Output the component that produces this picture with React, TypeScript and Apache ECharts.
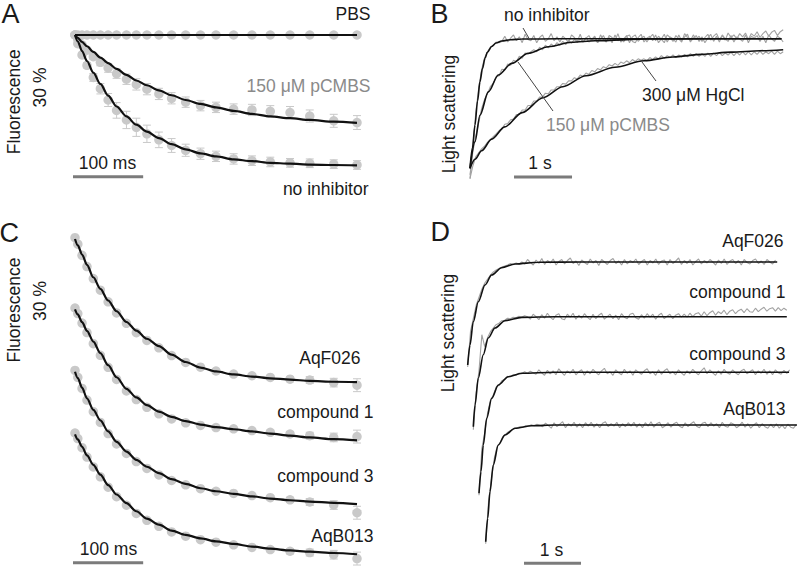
import React, { useEffect, useRef } from 'react';
import * as echarts from 'echarts';

// ---------- Panel A / C : stopped-flow fluorescence (time in ms, signal in %) ----------
const T_DOTS = [0, 4, 10, 17, 26, 36, 47, 59, 73, 87, 102, 119, 137, 157, 178, 200, 225, 251, 277, 305, 333, 367, 400];

const A_PBS_DOTS = [0, 0, 0, 0, 0, 0, 0, 0, 0, 0, 0, 0, 0, 0, 0, 0, 0, 0, 0, 0, 0, 0, 0];
const A_PBS_ERR = [0, 0.2, 0.2, 0.2, 0.2, 0.2, 0.2, 0.2, 0.2, 0.2, 0.2, 0.2, 0.2, 0.2, 0.2, 0.2, 0.2, 0.2, 0.2, 0.2, 0.2, 0.2, 0.3];
const A_PBS_FIT_T = [0, 400];
const A_PBS_FIT = [0, 0];

const A_PCMBS_DOTS = [0, -1.0, -2.3, -3.5, -5.0, -6.3, -7.6, -8.9, -10.2, -11.4, -12.5, -13.6, -14.6, -15.5, -16.3, -16.7, -17.1, -17.3, -17.6, -17.9, -18.7, -19.8, -20.2];
const A_PCMBS_ERR = [0, 0.2, 0.3, 0.5, 0.6, 0.8, 1.0, 1.1, 1.2, 1.3, 1.3, 1.3, 1.3, 1.2, 1.2, 1.2, 1.2, 1.3, 1.3, 1.4, 1.4, 1.5, 1.6];
const A_PCMBS_FIT = [0, -0.65, -1.6, -2.6, -3.9, -5.2, -6.5, -7.8, -9.2, -10.5, -11.6, -12.8, -13.9, -15.0, -15.9, -16.7, -17.5, -18.2, -18.8, -19.2, -19.6, -20.0, -20.3];

const A_NOINH_DOTS = [0, -2.0, -4.6, -7.0, -9.8, -12.4, -15.0, -17.4, -19.6, -21.3, -22.8, -24.2, -25.5, -26.6, -27.4, -28.0, -28.6, -29.0, -29.3, -29.5, -29.6, -29.8, -30.0];
const A_NOINH_ERR = [0, 0.2, 0.4, 0.6, 0.9, 1.2, 1.5, 1.8, 2.0, 2.1, 2.0, 1.8, 1.6, 1.4, 1.3, 1.2, 1.2, 1.1, 1.1, 1.0, 1.0, 1.0, 1.0];
const A_NOINH_FIT = [0, -1.5, -3.7, -6.0, -8.7, -11.3, -14.0, -16.5, -18.8, -20.7, -22.3, -23.8, -25.2, -26.4, -27.3, -28.0, -28.7, -29.1, -29.5, -29.7, -29.9, -30.0, -30.1];

const C_ERR = [0, 0.3, 0.3, 0.3, 0.3, 0.3, 0.3, 0.3, 0.3, 0.3, 0.3, 0.3, 0.3, 0.3, 0.3, 0.3, 0.3, 0.3, 0.5, 0.6, 0.8, 1.0, 1.5];
const C_AQF026_DOTS = [0.3, -1.2, -3.8, -6.4, -9.2, -11.9, -14.6, -17.2, -19.6, -21.8, -23.6, -25.3, -27.1, -28.7, -29.8, -30.7, -31.4, -31.8, -32.2, -32.6, -32.8, -33.4, -34.0];
const C_AQF026_FIT = [0, -1.5, -3.6, -6.0, -8.9, -11.6, -14.3, -16.8, -19.3, -21.3, -23.2, -24.9, -26.9, -28.6, -29.9, -30.8, -31.5, -32.0, -32.4, -32.7, -33.0, -33.2, -33.3];
const C_CMPD1_DOTS = [0.3, -1.0, -3.2, -5.4, -8.0, -10.7, -13.5, -16.3, -19.0, -21.0, -22.8, -24.3, -25.5, -26.4, -27.0, -27.5, -27.8, -28.2, -28.6, -29.0, -29.4, -29.8, -29.6];
const C_CMPD1_FIT = [0, -1.2, -3.0, -5.0, -7.5, -10.2, -13.0, -15.8, -18.5, -20.5, -22.3, -23.8, -25.0, -26.0, -26.8, -27.4, -27.9, -28.4, -28.9, -29.4, -29.8, -30.2, -30.5];
const C_CMPD3_DOTS = [0.3, -1.3, -3.9, -6.6, -9.3, -11.8, -14.4, -16.8, -19.0, -20.9, -22.5, -24.0, -25.3, -26.3, -27.2, -27.8, -28.3, -28.8, -29.3, -29.8, -30.3, -31.0, -32.8];
const C_CMPD3_FIT = [0, -1.5, -3.7, -6.2, -8.9, -11.3, -13.9, -16.3, -18.6, -20.5, -22.1, -23.6, -25.0, -26.1, -27.1, -27.8, -28.4, -29.0, -29.5, -29.9, -30.2, -30.5, -30.8];
const C_AQB013_DOTS = [0.3, -1.0, -3.1, -5.3, -7.6, -9.9, -12.3, -14.5, -16.5, -18.4, -20.0, -21.4, -22.7, -23.7, -24.5, -25.1, -25.7, -26.3, -26.8, -27.2, -27.5, -28.0, -28.9];
const C_AQB013_FIT = [0, -1.2, -2.9, -4.9, -7.1, -9.4, -11.8, -14.0, -16.0, -17.9, -19.6, -21.0, -22.4, -23.4, -24.2, -24.9, -25.5, -26.1, -26.6, -27.0, -27.3, -27.6, -27.9];

// ---------- Panel B : light scattering (time in s, normalised signal) ----------
const B_DT = 0.05;
const B_NOINH_FIT_T = [0, 0.043, 0.086, 0.13, 0.172, 0.215, 0.259, 0.3, 0.374, 0.45, 0.547, 0.7, 0.89, 1.5, 5.37];
const B_NOINH_FIT = [0, 0.16, 0.334, 0.52, 0.669, 0.77, 0.85, 0.895, 0.94, 0.967, 0.983, 0.993, 0.998, 1.0, 1.0];
const B_PCMBS_FIT_T = [0, 0.086, 0.172, 0.316, 0.488, 0.719, 1.005, 1.35, 1.753, 2.155, 3.1, 4.2, 5.37];
const B_PCMBS_FIT = [0, 0.205, 0.41, 0.59, 0.72, 0.81, 0.888, 0.939, 0.973, 0.985, 0.998, 1.0, 1.0];
const B_HGCL_FIT_T = [0, 0.086, 0.2, 0.374, 0.6, 0.9, 1.26, 1.6, 2.0, 2.5, 3.0, 3.5, 4.0, 4.5, 5.0, 5.4];
const B_HGCL_FIT = [0, 0.07, 0.135, 0.225, 0.32, 0.43, 0.545, 0.63, 0.715, 0.78, 0.83, 0.86, 0.88, 0.897, 0.908, 0.916];

const B_NOINH_RAW = [
  -0.08, 0.17, 0.43, 0.62, 0.76, 0.85, 0.9, 0.935, 0.95, 0.975, 0.97,
  0.98, 1.02, 0.975, 1.005, 1.03, 0.985, 1.015, 0.97, 1.035, 0.995,
  0.985, 1.025, 0.97, 1.01, 1.03, 0.98, 1.0, 1.04, 0.985, 1.015,
  0.975, 1.02, 1.0, 0.97, 1.03, 1.01, 0.98, 1.035, 0.975, 1.005,
  1.025, 0.985, 1.015, 0.97, 1.03, 0.995, 0.975, 1.025, 1.01, 0.985,
  1.04, 0.975, 1.0, 1.025, 0.97, 1.015, 1.03, 0.98, 1.005, 1.02,
  0.975, 1.01, 1.035, 0.985, 1.02, 0.995, 0.97, 1.03, 1.01, 0.98,
  1.025, 1.0, 0.975, 1.04, 1.01, 0.985, 1.03, 0.995, 1.02, 0.98,
  1.01, 1.035, 0.99, 1.02, 1.04, 0.995, 1.025, 0.99, 1.045, 1.01,
  1.03, 1.0, 1.04, 1.015, 1.045, 0.995, 1.04, 1.02, 1.055, 1.01,
  1.04, 1.06, 1.02, 1.05, 1.065, 1.025, 1.055, 1.07,
];
const B_PCMBS_RAW = [
  -0.05, 0.13, 0.25, 0.35, 0.46, 0.53, 0.575, 0.63, 0.655, 0.705,
  0.715, 0.765, 0.76, 0.805, 0.795, 0.835, 0.825, 0.865, 0.85, 0.89,
  0.88, 0.9, 0.915, 0.9, 0.935, 0.915, 0.95, 0.93, 0.96, 0.94,
  0.97, 0.95, 0.98, 0.955, 0.99, 0.965, 0.995, 0.97, 1.0, 0.975,
  1.01, 0.975, 0.995, 1.02, 0.97, 1.0, 1.025, 0.98, 1.01, 0.97,
  1.03, 0.985, 1.005, 0.975, 1.02, 1.03, 0.98, 0.97, 1.01, 1.035,
  0.975, 1.005, 1.02, 0.985, 1.03, 0.97, 1.0, 1.035, 0.975, 1.015,
  1.0, 0.975, 1.03, 0.985, 1.015, 1.035, 0.975, 1.005, 1.025, 0.98,
  1.015, 0.97, 1.005, 1.035, 0.98, 1.02, 0.975, 1.03, 1.0, 0.98,
  1.025, 0.975, 1.015, 1.0, 0.98, 1.03, 0.97, 1.02, 1.005, 1.025,
  0.98, 1.02, 0.97, 1.03, 1.0, 0.98, 1.02, 1.005, 0.975,
];
const B_HGCL_RAW = [
  -0.08, 0.02, 0.09, 0.12, 0.15, 0.17, 0.2, 0.22, 0.245, 0.265,
  0.29, 0.305, 0.34, 0.345, 0.375, 0.38, 0.415, 0.415, 0.45, 0.45,
  0.485, 0.485, 0.52, 0.52, 0.55, 0.55, 0.58, 0.575, 0.605, 0.605,
  0.63, 0.63, 0.655, 0.65, 0.675, 0.675, 0.7, 0.69, 0.72, 0.71,
  0.735, 0.725, 0.755, 0.745, 0.77, 0.76, 0.785, 0.775, 0.8, 0.79,
  0.81, 0.795, 0.82, 0.81, 0.83, 0.815, 0.84, 0.825, 0.845, 0.835,
  0.845, 0.83, 0.855, 0.84, 0.86, 0.845, 0.87, 0.85, 0.87, 0.855,
  0.875, 0.855, 0.875, 0.86, 0.88, 0.86, 0.885, 0.865, 0.885, 0.865,
  0.885, 0.865, 0.89, 0.865, 0.89, 0.87, 0.895, 0.87, 0.89, 0.875,
  0.895, 0.87, 0.895, 0.875, 0.9, 0.875, 0.9, 0.875, 0.9, 0.88,
  0.905, 0.88, 0.9, 0.885, 0.905, 0.88, 0.905, 0.885, 0.9,
];

// ---------- Panel D : light scattering with compounds (time in s, a.u.) ----------
const D_DT = 0.05;
const D_AQF026_FIT_T = [0, 0.04, 0.098, 0.186, 0.304, 0.42, 0.596, 0.83, 1.24, 2.0, 5.43];
const D_AQF026_FIT = [0, 0.2, 0.433, 0.632, 0.8, 0.9, 0.973, 1.01, 1.027, 1.03, 1.03];
const D_CMPD1_FIT_T = [0, 0.03, 0.088, 0.175, 0.263, 0.38, 0.556, 0.85, 1.43, 2.2, 5.5];
const D_CMPD1_FIT = [0, 0.217, 0.487, 0.72, 0.887, 0.987, 1.06, 1.093, 1.1, 1.1, 1.1];
const D_CMPD3_FIT_T = [0, 0.035, 0.075, 0.135, 0.223, 0.339, 0.514, 0.749, 1.33, 2.2, 5.44];
const D_CMPD3_FIT = [0, 0.217, 0.483, 0.75, 0.95, 1.083, 1.166, 1.2, 1.21, 1.21, 1.21];
const D_AQB013_FIT_T = [0, 0.035, 0.075, 0.133, 0.221, 0.339, 0.514, 0.807, 1.216, 2.2, 5.46];
const D_AQB013_FIT = [0, 0.233, 0.5, 0.767, 0.967, 1.067, 1.134, 1.16, 1.167, 1.167, 1.167];

const D_AQF026_RAW = [
  -0.02, 0.34, 0.47, 0.6, 0.68, 0.76, 0.82, 0.86, 0.9, 0.93, 0.95, 0.965, 0.98, 0.99, 1.0, 1.015, 1.005, 1.02, 1.01, 1.03,
  1.01, 1.055, 1.025, 1.0, 1.05, 1.015, 1.065, 1.005, 1.045, 1.02,
  1.06, 1.0, 1.035, 1.055, 1.01, 1.045, 1.07, 1.015, 1.04, 0.995,
  1.05, 1.025, 1.005, 1.06, 1.02, 1.045, 0.995, 1.055, 1.03, 1.005,
  1.045, 1.065, 1.015, 1.04, 1.0, 1.055, 1.01, 1.045, 1.025, 1.06,
  1.005, 1.035, 1.055, 1.0, 1.045, 1.02, 1.06, 1.005, 1.04, 1.05,
  1.0, 1.055, 1.015, 1.04, 1.07, 1.005, 1.045, 1.015, 1.055, 1.0,
  1.035, 1.06, 1.01, 1.045, 1.02, 1.055, 1.03, 1.0, 1.05, 1.015,
  1.06, 1.005, 1.04, 1.055, 1.015, 1.045, 1.0, 1.055, 1.025, 1.01,
  1.045, 1.06, 1.015, 1.04, 1.005, 1.055, 1.03, 1.01, 1.05,
];
const D_CMPD1_RAW = [
  -0.03, 0.34, 0.56, 0.92, 0.8, 0.89, 0.95, 0.985, 1.02, 1.035, 1.06, 1.065, 1.085, 1.08, 1.095, 1.09, 1.105, 1.095, 1.11, 1.1,
  1.075, 1.125, 1.1, 1.07, 1.12, 1.085, 1.135, 1.095, 1.07, 1.115,
  1.13, 1.08, 1.07, 1.125, 1.095, 1.135, 1.075, 1.115, 1.085, 1.13,
  1.095, 1.07, 1.125, 1.08, 1.115, 1.135, 1.075, 1.1, 1.125, 1.08,
  1.115, 1.07, 1.13, 1.095, 1.08, 1.125, 1.135, 1.09, 1.075, 1.12,
  1.085, 1.13, 1.095, 1.125, 1.075, 1.115, 1.135, 1.08, 1.105, 1.125,
  1.08, 1.115, 1.13, 1.095,
  1.125, 1.095, 1.135, 1.1, 1.13, 1.14, 1.105, 1.15, 1.11, 1.14,
  1.16, 1.115, 1.15, 1.13, 1.165, 1.12, 1.155, 1.17, 1.13, 1.16,
  1.175, 1.14, 1.18, 1.15, 1.145, 1.185, 1.15, 1.175, 1.195, 1.155,
  1.18, 1.19, 1.155, 1.19, 1.16, 1.185, 1.165,
];
const D_CMPD3_RAW = [
  -0.02, 0.45, 0.6, 0.8, 0.93, 0.98, 1.06, 1.08, 1.125, 1.14, 1.17, 1.165, 1.185, 1.18, 1.2, 1.195, 1.215, 1.2, 1.22, 1.205,
  1.19, 1.235, 1.205, 1.18, 1.23, 1.195, 1.225, 1.185, 1.245, 1.21,
  1.18, 1.225, 1.2, 1.24, 1.185, 1.215, 1.235, 1.18, 1.225, 1.195,
  1.24, 1.21, 1.185, 1.225, 1.25, 1.195, 1.215, 1.18, 1.235, 1.205,
  1.185, 1.24, 1.2, 1.225, 1.18, 1.235, 1.21, 1.19, 1.225, 1.245,
  1.195, 1.215, 1.18, 1.235, 1.19, 1.225, 1.245, 1.195, 1.215, 1.185,
  1.235, 1.205, 1.18, 1.225, 1.195, 1.24, 1.21, 1.185, 1.225, 1.255,
  1.195, 1.235, 1.205, 1.18, 1.225, 1.19, 1.24, 1.205, 1.19, 1.235,
  1.205, 1.185, 1.225, 1.24, 1.195, 1.215, 1.235, 1.185, 1.225, 1.2,
  1.24, 1.19, 1.225, 1.185, 1.235, 1.205, 1.19, 1.23, 1.2, 1.235,
];
const D_AQB013_RAW = [
  -0.02, 0.4, 0.62, 0.83, 0.95, 0.99, 1.05, 1.075, 1.1, 1.115, 1.13, 1.14, 1.15, 1.145, 1.16, 1.155, 1.17, 1.16, 1.175, 1.165,
  1.15, 1.185, 1.16, 1.135, 1.19, 1.15, 1.175, 1.2, 1.14, 1.18,
  1.155, 1.195, 1.145, 1.18, 1.14, 1.19, 1.155, 1.195, 1.145, 1.18,
  1.14, 1.185, 1.2, 1.15, 1.18, 1.155, 1.195, 1.14, 1.18, 1.15,
  1.19, 1.155, 1.195, 1.145, 1.18, 1.14, 1.19, 1.155, 1.2, 1.145,
  1.18, 1.195, 1.14, 1.16, 1.19, 1.145, 1.18, 1.195, 1.155, 1.14,
  1.19, 1.15, 1.18, 1.2, 1.155, 1.14, 1.185, 1.195, 1.15, 1.19,
  1.155, 1.18, 1.14, 1.195, 1.155, 1.145, 1.19, 1.175, 1.14, 1.16,
  1.195, 1.145, 1.18, 1.135, 1.165, 1.19, 1.14, 1.18, 1.15, 1.135,
  1.175, 1.14, 1.18, 1.135, 1.165, 1.13, 1.175, 1.145, 1.135, 1.17,
];

// scale bar sizes
const SCALE_MS = 100;
const SCALE_PCT = 30;
const SCALE_S = 1;

// ---------- layout (pixels) ----------
const GRIDS = [
  { left: 75, top: 35, width: 282, height: 130 }, // 0 A
  { left: 470, top: 38.8, width: 313.2, height: 129.5 }, // 1 B
  { left: 75, top: 239, width: 282, height: 129 }, // 2 C1
  { left: 75, top: 309.3, width: 282, height: 129 }, // 3 C2
  { left: 75, top: 371.7, width: 282, height: 129 }, // 4 C3
  { left: 75, top: 434.3, width: 282, height: 129 }, // 5 C4
  { left: 467.7, top: 265, width: 313.5, height: 100 }, // 6 D1
  { left: 473.3, top: 326.7, width: 313.5, height: 100 }, // 7 D2
  { left: 479, top: 393.3, width: 313.5, height: 100 }, // 8 D3
  { left: 485.7, top: 441.7, width: 313.5, height: 100 }, // 9 D4
];
const RANGES = [
  { x: [0, 400], y: [-30, 0] },
  { x: [0, 5.4], y: [0, 1] },
  { x: [0, 400], y: [-30, 0] },
  { x: [0, 400], y: [-30, 0] },
  { x: [0, 400], y: [-30, 0] },
  { x: [0, 400], y: [-30, 0] },
  { x: [0, 5.5], y: [0, 1] },
  { x: [0, 5.5], y: [0, 1] },
  { x: [0, 5.5], y: [0, 1] },
  { x: [0, 5.5], y: [0, 1] },
];

const FONT = '"Liberation Sans", Arial, Helvetica, sans-serif';
const DOT_COLOR = '#c9c9c9';
const RAW_COLOR = '#a2a2a2';
const FIT_COLOR = '#111111';
const BAR_COLOR = '#7b7b7b';
const TXT = '#1a1a1a';
const TXT_GRAY = '#8a8a8a';

const LABELS: any[] = [
  { text: 'A', x: 1.5, y: 14, align: 'left', size: 27 },
  { text: 'B', x: 430.5, y: 14, align: 'left', size: 27 },
  { text: 'C', x: -0.5, y: 232.5, align: 'left', size: 27 },
  { text: 'D', x: 430.5, y: 232, align: 'left', size: 27 },
  { text: 'PBS', x: 370.5, y: 14, align: 'right' },
  { text: '150 μM pCMBS', x: 370.5, y: 86, align: 'right', color: TXT_GRAY },
  { text: 'no inhibitor', x: 368.5, y: 188.5, align: 'right' },
  { text: '100 ms', x: 107.5, y: 163, align: 'center' },
  { text: 'Fluorescence', x: 14, y: 101.7, align: 'center', rot: true },
  { text: '30 %', x: 40, y: 87.5, align: 'center', rot: true },
  { text: 'no inhibitor', x: 504, y: 15, align: 'left' },
  { text: '300 μM HgCl', x: 642, y: 95, align: 'left' },
  { text: '150 μM pCMBS', x: 546, y: 125, align: 'left', color: TXT_GRAY },
  { text: '1 s', x: 540, y: 162.5, align: 'center' },
  { text: 'Light scattering', x: 449, y: 114, align: 'center', rot: true },
  { text: 'Fluorescence', x: 14, y: 310, align: 'center', rot: true },
  { text: '30 %', x: 40, y: 301, align: 'center', rot: true },
  { text: 'AqF026', x: 360.5, y: 357.5, align: 'right' },
  { text: 'compound 1', x: 373.5, y: 412, align: 'right' },
  { text: 'compound 3', x: 373.5, y: 476, align: 'right' },
  { text: 'AqB013', x: 373.5, y: 536, align: 'right' },
  { text: '100 ms', x: 108.5, y: 549, align: 'center' },
  { text: 'AqF026', x: 783.5, y: 241, align: 'right' },
  { text: 'compound 1', x: 785.5, y: 291.5, align: 'right' },
  { text: 'compound 3', x: 785.5, y: 353.5, align: 'right' },
  { text: 'AqB013', x: 785.5, y: 409, align: 'right' },
  { text: '1 s', x: 551.5, y: 550, align: 'center' },
  { text: 'Light scattering', x: 448, y: 333, align: 'center', rot: true },
];

const POINTERS = [
  [523, 28, 530, 40],
  [518, 62, 553, 111],
  [642, 62, 656, 81],
];

// scale bar anchors (data units of their grid)
const A_VBAR = { g: 0, t: -32.6, v: 0.2 };
const A_HBAR = { g: 0, t: -3.3, v: -32.7 };
const C_VBAR = { g: 2, t: -32.6, v: -1.4 };
const C_HBAR = { g: 5, t: -3.3, v: -29.86 };
const B_HBAR = { g: 1, t: 0.759, v: -0.067 };
const D_HBAR = { g: 9, t: 0.672, v: -0.216 };

const zip = (xs: number[], ys: number[]) => xs.map((x, i) => [x, ys[i]]);
const sampled = (ys: number[], dt: number) => ys.map((y, i) => [+(i * dt).toFixed(3), y]);

function fitLine(g: number, xs: number[], ys: number[], width: number, smooth: number) {
  return {
    type: 'line', xAxisIndex: g, yAxisIndex: g, data: zip(xs, ys),
    symbol: 'none', showSymbol: false, smooth, smoothMonotone: 'x', clip: false, silent: true,
    lineStyle: { color: FIT_COLOR, width }, z: 4,
  };
}
function rawLine(g: number, ys: number[], dt: number) {
  return {
    type: 'line', xAxisIndex: g, yAxisIndex: g, data: sampled(ys, dt),
    symbol: 'none', showSymbol: false, clip: false, silent: true,
    lineStyle: { color: RAW_COLOR, width: 1.1 }, z: 2,
  };
}
function dots(g: number, ys: number[]) {
  return {
    type: 'scatter', xAxisIndex: g, yAxisIndex: g, data: zip(T_DOTS, ys),
    symbolSize: 9.5, clip: false, silent: true, itemStyle: { color: DOT_COLOR, opacity: 1 }, z: 3,
  };
}
function errBars(g: number, ys: number[], errs: number[]) {
  return {
    type: 'custom', xAxisIndex: g, yAxisIndex: g, clip: false, silent: true, z: 2,
    data: T_DOTS.map((t, i) => [t, ys[i], errs[i]]),
    encode: { x: 0, y: 1 },
    renderItem: (_p: any, api: any) => {
      const x = api.value(0), y = api.value(1), e = api.value(2);
      const top = api.coord([x, y + e]);
      const bot = api.coord([x, y - e]);
      const hw = 4;
      const st = { stroke: DOT_COLOR, lineWidth: 1 };
      return {
        type: 'group',
        children: [
          { type: 'line', shape: { x1: top[0], y1: top[1], x2: bot[0], y2: bot[1] }, style: st },
          { type: 'line', shape: { x1: top[0] - hw, y1: top[1], x2: top[0] + hw, y2: top[1] }, style: st },
          { type: 'line', shape: { x1: bot[0] - hw, y1: bot[1], x2: bot[0] + hw, y2: bot[1] }, style: st },
        ],
      };
    },
  };
}
function bar(a: { g: number; t: number; v: number }, dt: number, dv: number) {
  return {
    type: 'line', xAxisIndex: a.g, yAxisIndex: a.g, data: [[a.t, a.v], [a.t + dt, a.v + dv]],
    symbol: 'none', showSymbol: false, clip: false, silent: true,
    lineStyle: { color: BAR_COLOR, width: 3, cap: 'butt' }, z: 1,
  };
}

export default function App() {
  const ref = useRef<HTMLDivElement>(null);
  useEffect(() => {
    if (!ref.current) return;
    const chart = echarts.init(ref.current, undefined, { renderer: 'svg' });
    const series: any[] = [
      // A
      errBars(0, A_NOINH_DOTS, A_NOINH_ERR),
      errBars(0, A_PCMBS_DOTS, A_PCMBS_ERR),
      errBars(0, A_PBS_DOTS, A_PBS_ERR),
      dots(0, A_NOINH_DOTS),
      dots(0, A_PCMBS_DOTS),
      dots(0, A_PBS_DOTS),
      fitLine(0, A_PBS_FIT_T, A_PBS_FIT, 2.2, 0),
      fitLine(0, T_DOTS, A_PCMBS_FIT, 2.2, 0.3),
      fitLine(0, T_DOTS, A_NOINH_FIT, 2.2, 0.3),
      bar(A_VBAR, 0, -SCALE_PCT),
      bar(A_HBAR, SCALE_MS, 0),
      // B
      rawLine(1, B_HGCL_RAW, B_DT),
      rawLine(1, B_PCMBS_RAW, B_DT),
      rawLine(1, B_NOINH_RAW, B_DT),
      fitLine(1, B_HGCL_FIT_T, B_HGCL_FIT, 1.6, 0.3),
      fitLine(1, B_PCMBS_FIT_T, B_PCMBS_FIT, 1.6, 0.3),
      fitLine(1, B_NOINH_FIT_T, B_NOINH_FIT, 1.6, 0.3),
      bar(B_HBAR, SCALE_S, 0),
      // C
      errBars(2, C_AQF026_DOTS, C_ERR), dots(2, C_AQF026_DOTS), fitLine(2, T_DOTS, C_AQF026_FIT, 2.2, 0.3),
      errBars(3, C_CMPD1_DOTS, C_ERR), dots(3, C_CMPD1_DOTS), fitLine(3, T_DOTS, C_CMPD1_FIT, 2.2, 0.3),
      errBars(4, C_CMPD3_DOTS, C_ERR), dots(4, C_CMPD3_DOTS), fitLine(4, T_DOTS, C_CMPD3_FIT, 2.2, 0.3),
      errBars(5, C_AQB013_DOTS, C_ERR), dots(5, C_AQB013_DOTS), fitLine(5, T_DOTS, C_AQB013_FIT, 2.2, 0.3),
      bar(C_VBAR, 0, -SCALE_PCT),
      bar(C_HBAR, SCALE_MS, 0),
      // D
      rawLine(6, D_AQF026_RAW, D_DT), fitLine(6, D_AQF026_FIT_T, D_AQF026_FIT, 1.6, 0.3),
      rawLine(7, D_CMPD1_RAW, D_DT), fitLine(7, D_CMPD1_FIT_T, D_CMPD1_FIT, 1.6, 0.3),
      rawLine(8, D_CMPD3_RAW, D_DT), fitLine(8, D_CMPD3_FIT_T, D_CMPD3_FIT, 1.6, 0.3),
      rawLine(9, D_AQB013_RAW, D_DT), fitLine(9, D_AQB013_FIT_T, D_AQB013_FIT, 1.6, 0.3),
      bar(D_HBAR, SCALE_S, 0),
    ];

    const texts = LABELS.map((l) => ({
      type: 'text',
      x: l.x,
      y: l.y,
      rotation: l.rot ? Math.PI / 2 : 0,
      silent: true,
      z: 10,
      style: {
        text: l.text,
        fill: l.color || TXT,
        fontSize: l.size || 17.5,
        fontFamily: FONT,
        align: l.align,
        verticalAlign: 'middle',
        textAlign: l.align,
        textVerticalAlign: 'middle',
      },
    }));
    const pointers = POINTERS.map((p) => ({
      type: 'line', silent: true, z: 9,
      shape: { x1: p[0], y1: p[1], x2: p[2], y2: p[3] },
      style: { stroke: '#444444', lineWidth: 1 },
    }));

    chart.setOption({
      animation: false,
      backgroundColor: '#ffffff',
      grid: GRIDS.map((g) => ({ ...g, containLabel: false, show: false })),
      xAxis: RANGES.map((r, i) => ({ type: 'value', gridIndex: i, min: r.x[0], max: r.x[1], show: false })),
      yAxis: RANGES.map((r, i) => ({ type: 'value', gridIndex: i, min: r.y[0], max: r.y[1], show: false })),
      series,
      graphic: { elements: [...texts, ...pointers] },
    });
    return () => chart.dispose();
  }, []);
  return <div ref={ref} style={{ position: 'absolute', left: 0, top: 0, width: 800, height: 566, background: '#fff' }} />;
}
